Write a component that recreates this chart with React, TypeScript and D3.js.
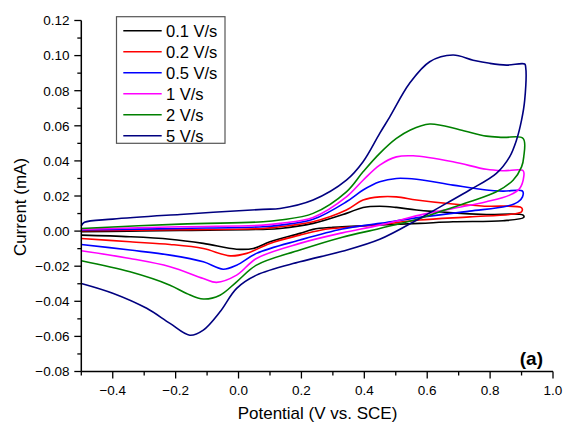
import React from "react"
import * as d3 from "d3"

// scan rates (legend) and colours
const rates = ["0.1 V/s", "0.2 V/s", "0.5 V/s", "1 V/s", "2 V/s", "5 V/s"]
const colors = ["#000000", "#ff0000", "#0000ff", "#ff00ff", "#008000", "#000080"]

// [potential V, current mA] – forward (anodic) and reverse (cathodic) branches
const fwd01 = [[-0.5, -0.0004], [-0.35, 0.0], [-0.186, 0.0004], [0.078, 0.001], [0.132, 0.0015], [0.237, 0.0044], [0.343, 0.0101], [0.396, 0.0135], [0.449, 0.0142], [0.502, 0.0135], [0.566, 0.012], [0.682, 0.0104], [0.788, 0.0095], [0.905, 0.0091]]
const rev01 = [[0.907, 0.0078], [0.841, 0.0059], [0.682, 0.0053], [0.576, 0.0044], [0.449, 0.0035], [0.3, 0.0022], [0.237, 0.001], [0.195, -0.0013], [0.1, -0.0061], [0.047, -0.0099], [-0.006, -0.0103], [-0.112, -0.007], [-0.218, -0.0046], [-0.345, -0.0032], [-0.5, -0.0023]]

const fwd02 = [[-0.5, 0.0002], [-0.186, 0.0008], [0.078, 0.0015], [0.132, 0.0025], [0.237, 0.0053], [0.343, 0.012], [0.396, 0.0177], [0.449, 0.0195], [0.502, 0.0195], [0.566, 0.0177], [0.682, 0.0154], [0.788, 0.0142], [0.9, 0.0133]]
const rev02 = [[0.9, 0.011], [0.873, 0.0097], [0.735, 0.0081], [0.576, 0.0063], [0.449, 0.0038], [0.3, 0.0015], [0.26, 0.0005], [0.195, -0.0023], [0.1, -0.007], [0.026, -0.0127], [-0.027, -0.0141], [-0.112, -0.0099], [-0.218, -0.0076], [-0.345, -0.0061], [-0.5, -0.0042]]

const fwd05 = [[-0.5, 0.0006], [-0.186, 0.0015], [0.078, 0.0025], [0.132, 0.0034], [0.237, 0.0067], [0.343, 0.0167], [0.396, 0.0234], [0.449, 0.0281], [0.502, 0.03], [0.566, 0.0295], [0.682, 0.0262], [0.788, 0.0234], [0.841, 0.0228], [0.903, 0.0228]]
const rev05 = [[0.903, 0.0195], [0.889, 0.0167], [0.852, 0.0142], [0.735, 0.0114], [0.576, 0.0078], [0.449, 0.0044], [0.33, 0.0012], [0.195, -0.0051], [0.057, -0.0127], [-0.006, -0.0194], [-0.049, -0.0217], [-0.112, -0.0175], [-0.218, -0.0137], [-0.345, -0.0108], [-0.5, -0.0076]]

const fwd1 = [[-0.5, 0.001], [-0.186, 0.0025], [0.078, 0.0034], [0.132, 0.0044], [0.237, 0.0078], [0.343, 0.0195], [0.396, 0.029], [0.449, 0.0376], [0.502, 0.0423], [0.555, 0.0429], [0.682, 0.0395], [0.788, 0.0352], [0.841, 0.0344], [0.905, 0.0344]]
const rev1 = [[0.907, 0.031], [0.894, 0.0243], [0.862, 0.0205], [0.788, 0.0167], [0.682, 0.0129], [0.576, 0.0091], [0.449, 0.0034], [0.33, -0.001], [0.195, -0.007], [0.057, -0.0156], [-0.006, -0.0251], [-0.07, -0.0292], [-0.112, -0.027], [-0.218, -0.0203], [-0.345, -0.0156], [-0.5, -0.0112]]

const fwd2 = [[-0.5, 0.0015], [-0.186, 0.004], [0.078, 0.0053], [0.132, 0.0063], [0.237, 0.0101], [0.343, 0.0224], [0.396, 0.0338], [0.449, 0.0443], [0.502, 0.0528], [0.545, 0.0575], [0.608, 0.061], [0.703, 0.0578], [0.788, 0.0541], [0.841, 0.0534], [0.905, 0.0528]]
const rev2 = [[0.907, 0.0423], [0.9, 0.0366], [0.873, 0.029], [0.82, 0.0224], [0.735, 0.0167], [0.64, 0.011], [0.576, 0.0072], [0.449, 0.0015], [0.33, -0.0035], [0.195, -0.0108], [0.057, -0.0194], [-0.006, -0.0289], [-0.059, -0.0365], [-0.112, -0.0387], [-0.165, -0.0355], [-0.218, -0.0308], [-0.345, -0.0232], [-0.5, -0.0169]]

const fwd5 = [[-0.5, 0.003], [-0.49, 0.005], [-0.4, 0.0068], [-0.186, 0.0095], [0.078, 0.0124], [0.132, 0.0129], [0.237, 0.0177], [0.343, 0.029], [0.396, 0.0395], [0.449, 0.0557], [0.481, 0.0651], [0.544, 0.0842], [0.608, 0.0965], [0.682, 0.1003], [0.746, 0.0974], [0.799, 0.0956], [0.852, 0.0946], [0.91, 0.0952]]
const rev5 = [[0.913, 0.0936], [0.91, 0.0746], [0.9, 0.0632], [0.884, 0.0519], [0.862, 0.0423], [0.82, 0.0329], [0.735, 0.0234], [0.661, 0.0158], [0.576, 0.0072], [0.449, -0.0047], [0.33, -0.0115], [0.195, -0.0175], [0.057, -0.0251], [-0.006, -0.0326], [-0.059, -0.046], [-0.112, -0.0564], [-0.155, -0.0593], [-0.218, -0.0526], [-0.292, -0.044], [-0.398, -0.0355], [-0.5, -0.0298]]

const loops = [
  fwd01.concat(rev01),
  fwd02.concat(rev02),
  fwd05.concat(rev05),
  fwd1.concat(rev1),
  fwd2.concat(rev2),
  fwd5.concat(rev5)
]

const xMajor = [-0.4, -0.2, 0.0, 0.2, 0.4, 0.6, 0.8, 1.0]
const xMinor = [-0.5, -0.3, -0.1, 0.1, 0.3, 0.5, 0.7, 0.9]
const yMajor = [-0.08, -0.06, -0.04, -0.02, 0.0, 0.02, 0.04, 0.06, 0.08, 0.1, 0.12]
const yMinor = [-0.07, -0.05, -0.03, -0.01, 0.01, 0.03, 0.05, 0.07, 0.09, 0.11]

const font = "'Liberation Sans', Arial, sans-serif"

export default function App() {
  const width = 568
  const height = 427
  const x = d3.scaleLinear().domain([-0.5, 1.0]).range([81.3, 553])
  const y = d3.scaleLinear().domain([-0.08, 0.12]).range([371.5, 20.5])

  const line = d3
    .line<number[]>()
    .x(d => x(d[0]))
    .y(d => y(d[1]))
    .curve(d3.curveCatmullRom.alpha(0.5))

  const x0 = x(-0.5)
  const yb = y(-0.08)

  return (
    <svg
      width={width}
      height={height}
      style={{ position: "absolute", left: 0, top: 0, background: "#fff" }}
      fontFamily={font}
    >
      <rect width={width} height={height} fill="#fff" />

      {loops.map((d, i) => (
        <path key={i} d={line(d) || ""} fill="none" stroke={colors[i]} strokeWidth={1.6} strokeLinejoin="round" />
      ))}

      {/* axes */}
      <line x1={x0} x2={x0} y1={y(0.12)} y2={yb} stroke="#000" strokeWidth={1.5} />
      <line x1={x0} x2={x(1.0)} y1={yb} y2={yb} stroke="#000" strokeWidth={1.5} />

      {yMajor.map(v => (
        <g key={"ym" + v}>
          <line x1={x0 - 7} x2={x0} y1={y(v)} y2={y(v)} stroke="#000" strokeWidth={1.3} />
          <text x={69.5} y={y(v) + 4.8} fontSize={13.5} textAnchor="end" fill="#000">
            {d3.format(".2f")(v)}
          </text>
        </g>
      ))}
      {yMinor.map(v => (
        <line key={"yn" + v} x1={x0 - 4} x2={x0} y1={y(v)} y2={y(v)} stroke="#000" strokeWidth={1.3} />
      ))}

      {xMajor.map(v => (
        <g key={"xm" + v}>
          <line x1={x(v)} x2={x(v)} y1={yb} y2={yb + 7} stroke="#000" strokeWidth={1.3} />
          <text x={x(v)} y={395} fontSize={13.5} textAnchor="middle" fill="#000">
            {d3.format(".1f")(v)}
          </text>
        </g>
      ))}
      {xMinor.map(v => (
        <line key={"xn" + v} x1={x(v)} x2={x(v)} y1={yb} y2={yb + 4} stroke="#000" strokeWidth={1.3} />
      ))}

      {/* axis titles */}
      <text x={317.5} y={419} fontSize={17} textAnchor="middle" fill="#000">
        Potential (V vs. SCE)
      </text>
      <text transform="translate(25.5,207) rotate(-90)" fontSize={17} textAnchor="middle" fill="#000">
        Current (mA)
      </text>

      <text x={543} y={365} fontSize={19} fontWeight="bold" textAnchor="end" fill="#000">
        (a)
      </text>

      {/* legend */}
      <rect x={116.5} y={16.7} width={108.5} height={126.6} fill="#fff" stroke="#555" strokeWidth={1.2} />
      {rates.map((r, i) => {
        const ry = 30.7 + i * 21
        return (
          <g key={r}>
            <line x1={123.3} x2={161.7} y1={ry} y2={ry} stroke={colors[i]} strokeWidth={1.6} />
            <text x={166} y={ry + 6} fontSize={16.5} fill="#000">
              {r}
            </text>
          </g>
        )
      })}
    </svg>
  )
}
